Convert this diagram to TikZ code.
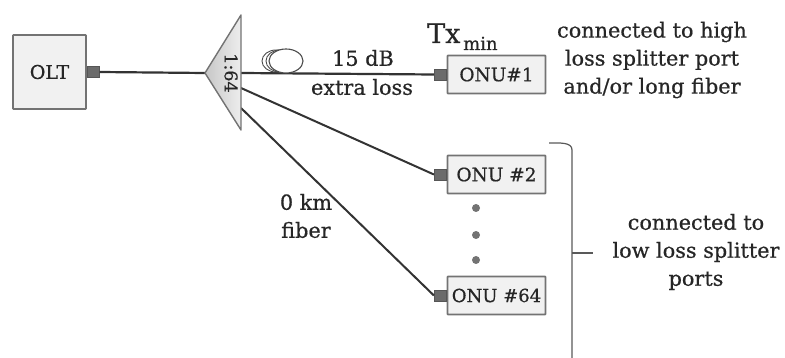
\documentclass[tikz,border=0pt]{standalone}
\usepackage{fontspec}
\setmainfont[FakeBold=0.6]{DejaVu Serif}
\renewcommand{\mddefault}{bx}
\renewcommand{\bfdefault}{bx}
\setmainfont[BoldFont={DejaVu Serif},BoldFeatures={FakeBold=0.6}]{DejaVu Serif}
\definecolor{boxfill}{gray}{0.945}
\definecolor{edge}{gray}{0.45}
\definecolor{fib}{gray}{0.2}
\definecolor{portfill}{gray}{0.42}
\tikzset{
  x=1pt,y=-1pt,
  unit/.style={draw=edge,line width=1.6pt,fill=boxfill,rounded corners=0.6pt,inner sep=0pt,font=\bfseries\fontsize{18.5}{18.5}\selectfont,text=black!85},
  port/.style={draw=portfill!80!black,line width=.8pt,fill=portfill,inner sep=0pt,minimum width=12pt,minimum height=11pt},
  fiber/.style={draw=fib,line width=2.2pt},
  lbl/.style={align=center,inner sep=0pt,text=black!85,font=\bfseries\fontsize{20.8}{28}\selectfont},
  coil/.style={draw=black!70,line width=.9pt},
  ddot/.style={circle,fill=black!55,inner sep=0pt,minimum size=8pt},
  brace/.style={draw=black!65,line width=1.2pt}
}
\begin{document}
\begin{tikzpicture}
\useasboundingbox (0,0) rectangle (785,358);
% boxes
\node[unit,minimum width=73pt,minimum height=74pt] (olt) at (49.5,72) {\bfseries\fontsize{19}{19}\selectfont OLT};
\node[unit,minimum width=98pt,minimum height=38pt] (onua) at (496.5,74.5) {ONU\#1};
\node[unit,minimum width=98pt,minimum height=38pt] (onub) at (496.5,174.5) {ONU \#2};
\node[unit,minimum width=98pt,minimum height=38pt] (onuc) at (496.5,295.5) {\bfseries\fontsize{18}{18}\selectfont ONU \#64};
% ports
\node[port,anchor=west] (po) at (olt.east) {};
\node[port,anchor=east] (pa) at (onua.west) {};
\node[port,anchor=east] (pb) at (onub.west) {};
\node[port,anchor=east] (pc) at (onuc.west) {};
% splitter
\coordinate (apex) at (205,73);
\coordinate (top) at (241,15);
\coordinate (bot) at (241,130);
\coordinate (oa) at (241,73);
\coordinate (ob) at (241,88);
\coordinate (oc) at (241,108);
\draw[fiber] (po.east) -- (apex);
\draw[fiber] (oa) -- (pa.west);
\draw[fiber,line width=2pt] (ob) -- (pb.west);
\draw[fiber,line width=2pt] (oc) -- (pc.west);
\draw[draw=edge,line width=1.4pt,left color=black!22,right color=black!7,line join=round] (apex) -- (top) -- (bot) -- cycle;
\node[rotate=-90,inner sep=0pt,font=\bfseries\fontsize{17.5}{17.5}\selectfont,text=black!85] (ratio) at (231,73) {1:64};
% fibre coil
\draw[coil] (276,61) ellipse (14pt and 11pt);
\draw[coil] (280,61) ellipse (14pt and 11pt);
\draw[coil] (284,61) ellipse (14pt and 11pt);
\draw[coil,fill=white,line width=1.1pt] (286,61) ellipse (17pt and 12pt);
% dots
\node[ddot] (d1) at (476,208) {};
\node[ddot] (d2) at (476,235) {};
\node[ddot] (d3) at (476,260) {};
% bracket
\coordinate (bs) at (549,143);
\coordinate (be) at (572,358);
\coordinate (bt) at (593,253);
\draw[brace] (bs) .. controls (560,143) and (572,142) .. (572,150) -- (be);
\draw[brace] (572,253) -- (bt);
% labels
\node[inner sep=0pt,anchor=base west,text=black!85,font=\bfseries\fontsize{27}{27}\selectfont] (tx) at (427,43) {Tx};
\node[inner sep=0pt,anchor=base west,text=black!85,font=\bfseries\fontsize{18}{18}\selectfont] (txs) at (463,50) {min};
\node[lbl,font=\bfseries\fontsize{20.8}{20.8}\selectfont] (l15) at (363,58) {15 dB};
\node[lbl,font=\bfseries\fontsize{20.8}{20.8}\selectfont] (lx) at (362,87) {extra loss};
\node[lbl] (lkm) at (306,216) {0 km\\fiber};
\node[lbl] (lhi) at (652,60) {connected to high\\loss splitter port\\and/or long fiber};
\node[lbl] (llo) at (696,252) {connected to\\low loss splitter\\ports};
\end{tikzpicture}
\end{document}
